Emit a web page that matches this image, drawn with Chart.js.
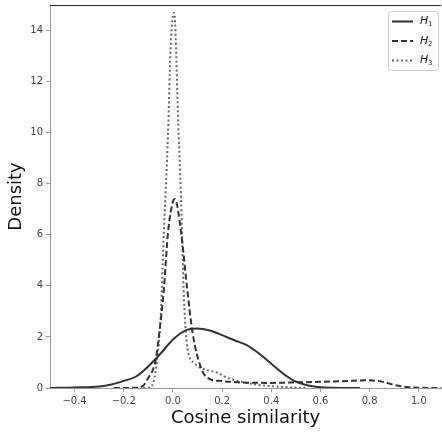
<!DOCTYPE html>
<html>
<head>
<meta charset="utf-8">
<script src="https://cdn.jsdelivr.net/npm/chart.js@4.4.1/dist/chart.umd.min.js"></script>
<style>
  html, body { margin: 0; padding: 0; background: #fff; }
</style>
</head>
<body>
<canvas id="myChart" width="442" height="432"></canvas>
<script>
(() => {
  'use strict'

  // KDE curves
  const h1X = [-0.5, -0.4, -0.3, -0.25, -0.2, -0.15, -0.1, -0.05, 0.0, 0.05, 0.1, 0.15, 0.2, 0.25, 0.3, 0.35, 0.4, 0.45, 0.5, 0.55, 0.6, 0.65, 0.76]
  const h1Y = [0.0, 0.02, 0.06, 0.14, 0.28, 0.45, 0.85, 1.35, 1.9, 2.25, 2.33, 2.25, 2.07, 1.87, 1.68, 1.35, 0.95, 0.55, 0.25, 0.1, 0.03, 0.01, 0.0]

  const h2X = [-0.24, -0.15, -0.12, -0.1, -0.08, -0.07, -0.055, -0.037, -0.02, 0.0, 0.008, 0.033, 0.057, 0.08, 0.113, 0.14, 0.2, 0.3, 0.4, 0.5, 0.6, 0.7, 0.79, 0.85, 0.9, 0.95, 1.0, 1.09]
  const h2Y = [0.0, 0.01, 0.1, 0.4, 0.75, 1.1, 2.2, 3.85, 6.1, 7.3, 7.4, 6.1, 3.96, 2.15, 0.82, 0.4, 0.27, 0.21, 0.2, 0.22, 0.24, 0.27, 0.3, 0.25, 0.12, 0.04, 0.01, 0.0]

  const h3X = [-0.12, -0.09, -0.07, -0.05, -0.037, -0.02, -0.01, 0.0, 0.005, 0.012, 0.02, 0.033, 0.045, 0.06, 0.086, 0.11, 0.14, 0.18, 0.22, 0.28, 0.35, 0.45, 0.55]
  const h3Y = [0.0, 0.04, 0.7, 2.8, 6.1, 10.0, 13.2, 14.6, 14.7, 13.5, 10.8, 7.4, 3.45, 1.5, 0.98, 0.8, 0.7, 0.6, 0.4, 0.24, 0.12, 0.04, 0.0]

  const xTicks = [-0.4, -0.2, 0.0, 0.2, 0.4, 0.6, 0.8, 1.0]
  const yTicks = [0, 2, 4, 6, 8, 10, 12, 14]
  const seriesNames = ['1', '2', '3']

  const toPoints = (xs, ys) => xs.map((x, i) => ({ x, y: ys[i] }))
  const fmt = v => (v < 0 ? '\u2212' : '') + Math.abs(v).toFixed(1)

  // top spine is drawn black in the original, left/bottom are grey
  const topSpine = {
    id: 'topSpine',
    afterDraw(chart) {
      const { ctx, chartArea } = chart
      ctx.save()
      ctx.strokeStyle = '#222'
      ctx.lineWidth = 1
      ctx.beginPath()
      ctx.moveTo(chartArea.left, Math.round(chartArea.top) + 0.5)
      ctx.lineTo(chartArea.right, Math.round(chartArea.top) + 0.5)
      ctx.stroke()
      ctx.restore()
    }
  }

  // matplotlib-style legend box inside the plot, top right
  const legendBox = {
    id: 'legendBox',
    afterDraw(chart) {
      const { ctx } = chart
      const x0 = 388, y0 = 11, w = 50, h = 59
      ctx.save()
      ctx.fillStyle = 'rgba(255,255,255,0.85)'
      ctx.strokeStyle = '#cccccc'
      ctx.lineWidth = 1
      ctx.beginPath()
      ctx.roundRect(x0 + 0.5, y0 + 0.5, w, h, 3)
      ctx.fill()
      ctx.stroke()
      chart.data.datasets.forEach((ds, i) => {
        const y = 21.5 + i * 19.5
        ctx.strokeStyle = ds.borderColor
        ctx.lineWidth = ds.borderWidth
        ctx.setLineDash(ds.borderDash || [])
        ctx.beginPath()
        ctx.moveTo(392, y)
        ctx.lineTo(413, y)
        ctx.stroke()
        ctx.setLineDash([])
        ctx.fillStyle = '#222'
        ctx.textBaseline = 'middle'
        ctx.font = 'italic 11px "DejaVu Sans"'
        ctx.fillText('H', 420, y)
        ctx.font = '7px "DejaVu Sans"'
        ctx.fillText(seriesNames[i], 428, y + 3)
      })
      ctx.restore()
    }
  }

  const ctx = document.getElementById('myChart')
  // eslint-disable-next-line no-unused-vars
  const myChart = new Chart(ctx, {
    type: 'line',
    data: {
      datasets: [{
        label: 'H1',
        data: toPoints(h1X, h1Y),
        borderColor: '#333333',
        borderWidth: 2,
        pointRadius: 0,
        cubicInterpolationMode: 'monotone',
        fill: false
      }, {
        label: 'H2',
        data: toPoints(h2X, h2Y),
        borderColor: '#333333',
        borderWidth: 2,
        borderDash: [6, 3],
        pointRadius: 0,
        cubicInterpolationMode: 'monotone',
        fill: false
      }, {
        label: 'H3',
        data: toPoints(h3X, h3Y),
        borderColor: '#666666',
        borderWidth: 2,
        borderDash: [2, 2.5],
        pointRadius: 0,
        cubicInterpolationMode: 'monotone',
        fill: false
      }]
    },
    options: {
      responsive: false,
      animation: false,
      layout: { padding: { top: 5, right: 1, left: 0, bottom: 0 } },
      scales: {
        x: {
          type: 'linear',
          min: -0.5,
          max: 1.09,
          afterBuildTicks: axis => { axis.ticks = xTicks.map(value => ({ value })) },
          afterFit: axis => {
            axis.height = 44
            axis.paddingLeft = 0
            axis.paddingRight = 0
          },
          ticks: {
            callback: v => fmt(v),
            color: '#444',
            font: { family: 'DejaVu Sans', size: 10 },
            padding: 3,
            maxRotation: 0,
            autoSkip: false
          },
          grid: { drawOnChartArea: false, drawTicks: true, tickLength: 4, color: '#999' },
          border: { color: '#999', width: 1 },
          title: {
            display: true,
            text: 'Cosine similarity',
            color: '#111',
            font: { family: 'DejaVu Sans', size: 18 },
            padding: { top: 0, bottom: 3 }
          }
        },
        y: {
          min: 0,
          max: 15,
          afterBuildTicks: axis => { axis.ticks = yTicks.map(value => ({ value })) },
          afterFit: axis => {
            axis.width = 50
            axis.paddingTop = 0
            axis.paddingBottom = 0
          },
          ticks: {
            callback: v => String(v),
            color: '#444',
            font: { family: 'DejaVu Sans', size: 10 },
            padding: 3
          },
          grid: { drawOnChartArea: false, drawTicks: true, tickLength: 4, color: '#999' },
          border: { color: '#999', width: 1 },
          title: {
            display: true,
            text: 'Density',
            color: '#111',
            font: { family: 'DejaVu Sans', size: 18 },
            padding: { top: 6, bottom: 0 }
          }
        }
      },
      plugins: {
        legend: { display: false },
        tooltip: { enabled: false }
      }
    },
    plugins: [topSpine, legendBox]
  })
})()
</script>
</body>
</html>
